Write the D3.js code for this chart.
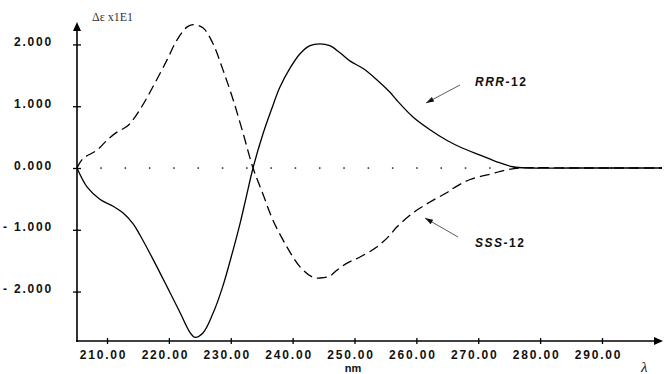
<!DOCTYPE html>
<html><head><meta charset="utf-8">
<script src="https://cdn.jsdelivr.net/npm/d3@7"></script>
<style>
html,body{margin:0;padding:0;background:#fff;}
svg{display:block;}
.tk text{font-family:"Liberation Sans",Arial,sans-serif;font-weight:bold;font-size:12px;letter-spacing:1.8px;fill:#111;}
</style></head>
<body>
<script>
// ---- data ----
const rrrWave = [205.15,206.8,208.9,211.0,212.6,214.2,215.3,217.4,219.7,221.8,223.4,224.2,225.5,227.1,228.7,230.4,231.5,232.5,233.6,235.2,236.7,237.9,239.6,241.2,242.8,244.4,246.0,247.6,249.3,251.4,253.6,255.7,256.8,259.4,262.2,264.9,267.5,270.3,273.0,275.6,278.3,285,292,299.7];
const rrrVals = [0,-0.31,-0.51,-0.62,-0.73,-0.90,-1.08,-1.47,-1.92,-2.34,-2.66,-2.74,-2.67,-2.36,-1.92,-1.32,-0.90,-0.47,0,0.55,0.98,1.30,1.62,1.85,1.98,2.01,1.98,1.87,1.73,1.61,1.43,1.23,1.10,0.83,0.62,0.45,0.32,0.21,0.10,0.02,0,0,0,0];
const sssWave = [205.15,206.1,208.4,210.0,211.6,213.2,214.2,215.3,217.4,219.7,221.3,222.9,223.9,225.5,227.1,228.7,230.4,232.0,233.6,235.2,236.8,239.1,241.2,243.3,244.4,246.0,247.2,248.8,250.9,253.6,255.7,256.8,259.4,262.2,264.9,266.1,268.6,271.9,274.6,276.7,285,292,299.7];
const sssVals = [0,0.15,0.29,0.45,0.58,0.67,0.78,0.94,1.31,1.75,2.07,2.28,2.32,2.27,2.02,1.60,1.10,0.56,0,-0.42,-0.84,-1.28,-1.60,-1.77,-1.78,-1.75,-1.65,-1.54,-1.44,-1.28,-1.09,-0.96,-0.73,-0.55,-0.40,-0.32,-0.19,-0.10,-0.03,0,0,0,0];
const yTicks = [-2,-1,0,1,2];
const xTicks = [210,220,230,240,250,260,270,280,290];
const yTitle = "Δε  x1E1";
const xTitle = "nm";
const labels = [{name:"RRR", suffix:"-12"},{name:"SSS", suffix:"-12"}];

const W=664,H=374;
const svg=d3.select("body").append("svg").attr("width",W).attr("height",H);
const x=d3.scaleLinear().domain([205.15,299.7]).range([77,662]);
const y=d3.scaleLinear().domain([-2.8,2.35]).range([341,22.8]);

// axes
const ya=svg.append("g").attr("class","tk").attr("transform","translate(77,0)")
  .call(d3.axisLeft(y).tickValues(yTicks).tickSize(4).tickPadding(20)
  .tickFormat(d=>{const s=d3.format(".3f")(Math.abs(d));return d<0?"- "+s:s;}));
ya.select(".domain").remove();
ya.selectAll(".tick line").attr("x1",-4).attr("x2",4).attr("stroke","#000").attr("stroke-width",1.3);
ya.selectAll(".tick text").attr("dy","0.1em");

const xa=svg.append("g").attr("class","tk").attr("transform","translate(0,341)")
  .call(d3.axisBottom(x).tickValues(xTicks).tickSize(3).tickPadding(6).tickFormat(d3.format(".2f")));
xa.select(".domain").remove();
xa.selectAll(".tick line").attr("y1",-3).attr("y2",3).attr("stroke","#000").attr("stroke-width",1.3);
xa.selectAll(".tick text").attr("dx","-4px");

// axis lines with arrows
svg.append("line").attr("x1",77).attr("x2",77).attr("y1",30).attr("y2",342).attr("stroke","#000").attr("stroke-width",1.6);
svg.append("path").attr("d","M77,22 L73,31 L81,31 Z").attr("fill","#000");
svg.append("line").attr("x1",76).attr("x2",655).attr("y1",341).attr("y2",341).attr("stroke","#000").attr("stroke-width",1.6);
svg.append("path").attr("d","M663,341 L654,337 L654,345 Z").attr("fill","#000");

// dotted zero line
const dots=d3.range(101,660,24.3);
svg.append("g").selectAll("rect").data(dots).join("rect")
  .attr("x",d=>d-0.7).attr("y",y(0)-0.7).attr("width",1.5).attr("height",1.5).attr("fill","#222");

// curves
const line=d3.line().x(d=>x(d[0])).y(d=>y(d[1])).curve(d3.curveCatmullRom.alpha(0.5));
svg.append("path").datum(rrrWave.map((w,i)=>[w,rrrVals[i]])).attr("d",line)
  .attr("fill","none").attr("stroke","#000").attr("stroke-width",1.3);
svg.append("path").datum(sssWave.map((w,i)=>[w,sssVals[i]])).attr("d",line)
  .attr("fill","none").attr("stroke","#000").attr("stroke-width",1.3).attr("stroke-dasharray","10,5");

// titles
svg.append("text").attr("x",92).attr("y",21).text(yTitle)
  .attr("font-family","Liberation Serif,serif").attr("font-size",12).attr("fill","#333");
svg.append("text").attr("x",353).attr("y",372).attr("text-anchor","middle").text(xTitle)
  .attr("font-family","Liberation Sans,Arial,sans-serif").attr("font-weight","bold").attr("font-size",11).attr("fill","#111");
svg.append("text").attr("x",641).attr("y",372).text("λ")
  .attr("font-family","Liberation Serif,serif").attr("font-style","italic").attr("font-size",15).attr("fill","#111");

// annotations
function label(lbl,tx,ty){
  const t=svg.append("text").attr("x",tx).attr("y",ty)
    .attr("font-family","Liberation Sans,Arial,sans-serif").attr("font-weight","bold").attr("font-size",12)
    .attr("letter-spacing","1.5px").attr("fill","#111");
  t.append("tspan").attr("font-style","italic").text(lbl.name);
  t.append("tspan").text(lbl.suffix);
}
label(labels[0],475,86);
label(labels[1],475,247);
function arrow(x1,y1,x2,y2){
  svg.append("line").attr("x1",x1).attr("y1",y1).attr("x2",x2).attr("y2",y2).attr("stroke","#333").attr("stroke-width",0.8);
  const a=Math.atan2(y2-y1,x2-x1), L=8, w=2.6;
  const bx=x2-L*Math.cos(a), by=y2-L*Math.sin(a);
  svg.append("path").attr("d",`M${x2},${y2} L${bx+w*Math.sin(a)},${by-w*Math.cos(a)} L${bx-w*Math.sin(a)},${by+w*Math.cos(a)} Z`).attr("fill","#111");
}
arrow(460,85,426,103);
arrow(458,237,425,218);
</script>
</body></html>
